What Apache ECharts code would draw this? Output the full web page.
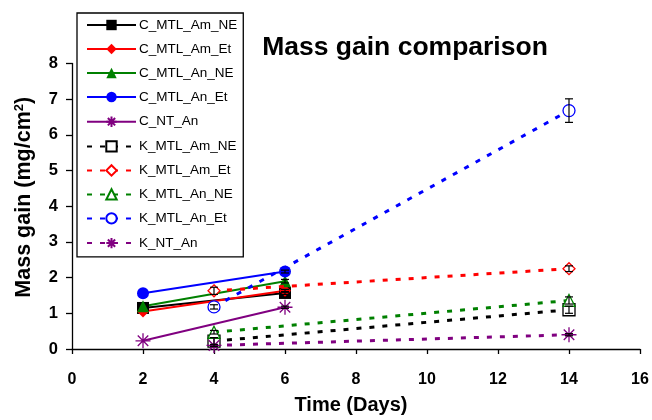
<!DOCTYPE html>
<html>
<head>
<meta charset="utf-8">
<script src="https://cdn.jsdelivr.net/npm/echarts@6/dist/echarts.min.js"></script>
<style>
  html, body { margin: 0; padding: 0; background: #fff; }
  #chart { width: 652px; height: 420px; }
</style>
</head>
<body>
<div id="chart"></div>
<script>
// Mass gain (mg/cm2) over time (days) for C (solid) and K (dashed) sample groups
const seriesNames = ['C_MTL_Am_NE', 'C_MTL_Am_Et', 'C_MTL_An_NE', 'C_MTL_An_Et', 'C_NT_An',
                     'K_MTL_Am_NE', 'K_MTL_Am_Et', 'K_MTL_An_NE', 'K_MTL_An_Et', 'K_NT_An'];
const cDays = [2, 6];
const kDays = [4, 14];

const C_MTL_Am_NE = [1.15, 1.57];
const C_MTL_Am_Et = [1.05, 1.63];
const C_MTL_An_NE = [1.2, 1.9];
const C_MTL_An_Et = [1.56, 2.17];
const C_NT_An     = [0.23, 1.17];

const K_MTL_Am_NE = [0.22, 1.1];
const K_MTL_Am_Et = [1.63, 2.25];
const K_MTL_An_NE = [0.47, 1.36];
const K_MTL_An_Et = [1.18, 6.68];
const K_NT_An     = [0.1, 0.4];

// standard deviations (error bars)
const C_err = [[0, 0.04], [0, 0.04], [0, 0.05], [0, 0.04], [0, 0.03]];
const K_err = [[0.1, 0.1], [0.1, 0.08], [0.05, 0.1], [0.06, 0.33], [0.03, 0.03]];

const xTicks = [0, 2, 4, 6, 8, 10, 12, 14, 16];
const yTicks = [0, 1, 2, 3, 4, 5, 6, 7, 8];

const colors = ['#000000', '#ff0000', '#008000', '#0000ff', '#800080'];
const symbols = ['rect', 'diamond', 'triangle', 'circle',
  'path://M5,0L5,10M0,5L10,5M1.5,1.5L8.5,8.5M1.5,8.5L8.5,1.5'];

const cValues = [C_MTL_Am_NE, C_MTL_Am_Et, C_MTL_An_NE, C_MTL_An_Et, C_NT_An];
const kValues = [K_MTL_Am_NE, K_MTL_Am_Et, K_MTL_An_NE, K_MTL_An_Et, K_NT_An];

const FONT = '"Liberation Sans", Arial, sans-serif';

function pairs(days, vals) { return days.map((d, i) => [d, vals[i]]); }

const series = [];
cValues.forEach((vals, i) => {
  const star = i === 4;
  series.push({
    name: seriesNames[i],
    type: 'line',
    data: pairs(cDays, vals),
    symbol: symbols[i],
    symbolSize: star ? 15 : 12,
    showAllSymbol: true,
    color: colors[i],
    lineStyle: { color: colors[i], width: 2, type: 'solid' },
    itemStyle: star
      ? { color: 'none', borderColor: colors[i], borderWidth: 1.3 }
      : { color: colors[i], borderColor: colors[i], borderWidth: 0 },
    emphasis: { disabled: true },
    z: 3
  });
});
kValues.forEach((vals, i) => {
  const star = i === 4;
  series.push({
    name: seriesNames[i + 5],
    type: 'line',
    data: pairs(kDays, vals),
    symbol: symbols[i],
    symbolSize: star ? 15 : 12,
    showAllSymbol: true,
    color: colors[i],
    lineStyle: { color: colors[i], width: 3, type: [5, 8] },
    itemStyle: star
      ? { color: 'none', borderColor: colors[i], borderWidth: 1.3 }
      : { color: '#ffffff', borderColor: colors[i], borderWidth: 1.3 },
    emphasis: { disabled: true },
    z: 4
  });
});

// error bar records: [x, y, sd]
const errData = [];
cValues.forEach((vals, i) => cDays.forEach((d, j) => { if (C_err[i][j] > 0) errData.push([d, vals[j], C_err[i][j]]); }));
kValues.forEach((vals, i) => kDays.forEach((d, j) => { if (K_err[i][j] > 0) errData.push([d, vals[j], K_err[i][j]]); }));

series.push({
  type: 'custom',
  silent: true,
  z: 5,
  data: errData,
  encode: { x: 0, y: 1 },
  renderItem: function (params, api) {
    const x = api.value(0), y = api.value(1), e = api.value(2);
    const hi = api.coord([x, y + e]);
    const lo = api.coord([x, y - e]);
    const w = 4;
    const st = { stroke: '#000', lineWidth: 1.2 };
    return {
      type: 'group',
      children: [
        { type: 'line', shape: { x1: hi[0], y1: hi[1], x2: lo[0], y2: lo[1] }, style: st },
        { type: 'line', shape: { x1: hi[0] - w, y1: hi[1], x2: hi[0] + w, y2: hi[1] }, style: st },
        { type: 'line', shape: { x1: lo[0] - w, y1: lo[1], x2: lo[0] + w, y2: lo[1] }, style: st }
      ]
    };
  }
});

const chart = echarts.init(document.getElementById('chart'), null, { renderer: 'canvas' });
chart.setOption({
  animation: false,
  backgroundColor: '#ffffff',
  title: {
    text: 'Mass gain comparison',
    left: 400, top: 29,
    textAlign: 'center',
    textStyle: { fontFamily: FONT, fontWeight: 'bold', fontSize: 26.5, color: '#000' }
  },
  grid: { left: 72, right: 12, top: 63.5, bottom: 68.5, containLabel: false },
  legend: {
    data: seriesNames,
    orient: 'vertical',
    left: 77, top: 13,
    padding: [5, 6, 6, 9],
    itemWidth: 49,
    itemHeight: 13,
    itemGap: 10,
    backgroundColor: '#ffffff',
    borderColor: '#000',
    borderWidth: 1.3,
    borderRadius: 0,
    selectedMode: false,
    z: 10,
    textStyle: { fontFamily: FONT, fontSize: 13.5, color: '#000', padding: [0, 0, 0, -2] }
  },
  xAxis: {
    type: 'value',
    min: 0, max: 16, interval: 2,
    name: 'Time (Days)',
    nameLocation: 'middle',
    nameGap: 46,
    nameTextStyle: { fontFamily: FONT, fontWeight: 'bold', fontSize: 20, color: '#000',
                     verticalAlign: 'top', padding: [0, 10, 0, 0] },
    axisLine: { show: true, lineStyle: { color: '#000', width: 1.3 } },
    axisTick: { show: true, inside: false, length: 5, lineStyle: { color: '#000', width: 1.3 } },
    axisLabel: { fontFamily: FONT, fontWeight: 'bold', fontSize: 16, color: '#000', margin: 23,
                 formatter: v => xTicks.includes(v) ? String(v) : '' },
    splitLine: { show: false }
  },
  yAxis: {
    type: 'value',
    min: 0, max: 8, interval: 1,
    name: '{t|Mass gain (mg/cm}{s|2}{t|)}',
    nameLocation: 'middle',
    nameGap: 37,
    nameTextStyle: {
      padding: [0, 0, 0, 18],
      rich: {
        t: { fontFamily: FONT, fontWeight: 'bold', fontSize: 21.5, color: '#000' },
        s: { fontFamily: FONT, fontWeight: 'bold', fontSize: 13, color: '#000', verticalAlign: 'top', padding: [0, 0, 9, 0] }
      }
    },
    axisLine: { show: true, lineStyle: { color: '#000', width: 1.3 } },
    axisTick: { show: true, inside: false, length: 6, lineStyle: { color: '#000', width: 1.3 } },
    axisLabel: { fontFamily: FONT, fontWeight: 'bold', fontSize: 16.5, color: '#000', margin: 14,
                 formatter: v => yTicks.includes(v) ? String(v) : '' },
    splitLine: { show: false }
  },
  series: series
});
</script>
</body>
</html>
